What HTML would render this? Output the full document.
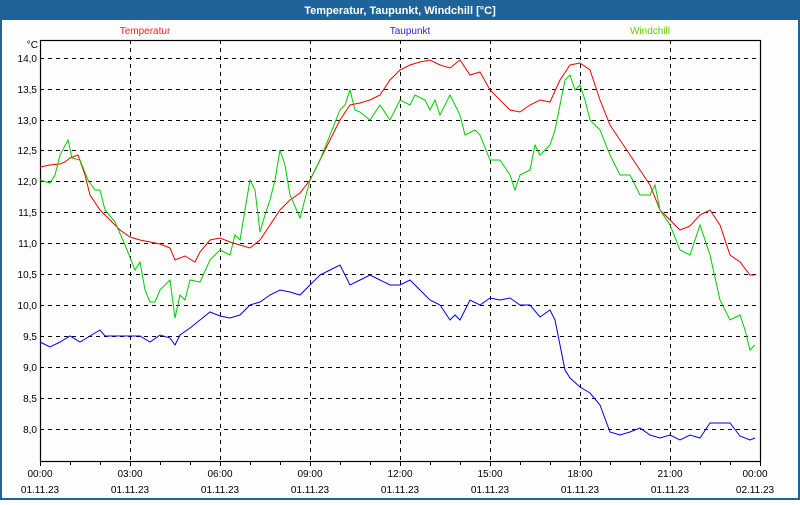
<!DOCTYPE html>
<html><head><meta charset="utf-8"><style>
html,body{margin:0;padding:0;}
body{width:800px;height:500px;overflow:hidden;background:#fff;font-family:"Liberation Sans",sans-serif;}
</style></head><body>
<svg width="800" height="500" xmlns="http://www.w3.org/2000/svg" font-family="Liberation Sans, sans-serif">
<rect x="0" y="0" width="800" height="500" fill="#1e6399"/>
<rect x="2" y="20" width="796" height="478" fill="#fdfefd"/>
<text x="400" y="14" fill="#fff" font-size="11" font-weight="bold" text-anchor="middle">Temperatur, Taupunkt, Windchill [°C]</text>
<text x="145" y="34" fill="#ee2222" font-size="10" text-anchor="middle">Temperatur</text>
<text x="410" y="34" fill="#3322cc" font-size="10" text-anchor="middle">Taupunkt</text>
<text x="650" y="34" fill="#66cc00" font-size="10" text-anchor="middle">Windchill</text>
<g stroke="#000" stroke-width="1" stroke-dasharray="4,4">
<line x1="40" y1="58.5" x2="760" y2="58.5"/><line x1="40" y1="89.5" x2="760" y2="89.5"/><line x1="40" y1="120.5" x2="760" y2="120.5"/><line x1="40" y1="150.5" x2="760" y2="150.5"/><line x1="40" y1="181.5" x2="760" y2="181.5"/><line x1="40" y1="212.5" x2="760" y2="212.5"/><line x1="40" y1="243.5" x2="760" y2="243.5"/><line x1="40" y1="274.5" x2="760" y2="274.5"/><line x1="40" y1="305.5" x2="760" y2="305.5"/><line x1="40" y1="336.5" x2="760" y2="336.5"/><line x1="40" y1="367.5" x2="760" y2="367.5"/><line x1="40" y1="398.5" x2="760" y2="398.5"/><line x1="40" y1="429.5" x2="760" y2="429.5"/>
<line x1="130.5" y1="40" x2="130.5" y2="461"/><line x1="220.5" y1="40" x2="220.5" y2="461"/><line x1="310.5" y1="40" x2="310.5" y2="461"/><line x1="400.5" y1="40" x2="400.5" y2="461"/><line x1="490.5" y1="40" x2="490.5" y2="461"/><line x1="580.5" y1="40" x2="580.5" y2="461"/><line x1="670.5" y1="40" x2="670.5" y2="461"/>
</g>
<rect x="40.5" y="40.5" width="720" height="421" fill="none" stroke="#000" stroke-width="1.2"/>
<g stroke="#000"><path d="M40.5 461v5M70.5 461v4M100.5 461v4M130.5 461v5M160.5 461v4M190.5 461v4M220.5 461v5M250.5 461v4M280.5 461v4M310.5 461v5M340.5 461v4M370.5 461v4M400.5 461v5M430.5 461v4M460.5 461v4M490.5 461v5M520.5 461v4M550.5 461v4M580.5 461v5M610.5 461v4M640.5 461v4M670.5 461v5M700.5 461v4M730.5 461v4M760.5 461v5"/></g>
<g font-size="10" fill="#000" text-anchor="end">
<text x="38" y="48">°C</text>
<text x="37" y="62">14,0</text><text x="37" y="93">13,5</text><text x="37" y="124">13,0</text><text x="37" y="154">12,5</text><text x="37" y="185">12,0</text><text x="37" y="216">11,5</text><text x="37" y="247">11,0</text><text x="37" y="278">10,5</text><text x="37" y="309">10,0</text><text x="37" y="340">9,5</text><text x="37" y="371">9,0</text><text x="37" y="402">8,5</text><text x="37" y="433">8,0</text>
</g>
<g font-size="10" fill="#000" text-anchor="middle">
<text x="40" y="477">00:00</text><text x="130" y="477">03:00</text><text x="220" y="477">06:00</text><text x="310" y="477">09:00</text><text x="400" y="477">12:00</text><text x="490" y="477">15:00</text><text x="580" y="477">18:00</text><text x="670" y="477">21:00</text><text x="755" y="477">00:00</text>
<text x="40" y="493">01.11.23</text><text x="130" y="493">01.11.23</text><text x="220" y="493">01.11.23</text><text x="310" y="493">01.11.23</text><text x="400" y="493">01.11.23</text><text x="490" y="493">01.11.23</text><text x="580" y="493">01.11.23</text><text x="670" y="493">01.11.23</text><text x="755" y="493">02.11.23</text>
</g>
<g fill="none" stroke-width="1">
<polyline stroke="#ee0000" points="40,167 50,165 60,164 65,162 70,158 78,155 85,175 90,195 100,210 110,220 120,230 130,237 140,240 150,242 160,244 170,248 175,260 185,256 195,262 200,252 210,240 220,238 230,242 240,245 250,248 260,240 270,225 280,210 290,200 300,193 310,180 320,160 330,140 340,120 350,105 360,103 370,100 380,95 390,80 400,70 410,65 420,62 430,60 440,65 450,68 460,60 470,75 480,72 490,90 500,100 510,110 520,112 530,105 540,100 550,102 560,80 570,65 580,63 590,70 600,100 610,125 620,140 630,155 640,170 650,185 660,210 670,220 680,230 690,226 700,215 710,210 720,225 730,255 740,262 750,275 755,275"/>
<polyline stroke="#00cc00" points="40,180 50,183 55,175 60,155 68,140 72,158 80,160 88,180 95,190 100,190 105,210 115,222 125,245 135,270 140,262 145,290 150,302 155,302 160,290 165,285 170,280 175,318 180,295 185,300 190,280 200,282 210,260 220,250 230,255 235,235 240,240 245,210 250,180 255,190 260,232 265,215 270,200 275,180 280,150 285,165 290,195 300,218 310,180 320,160 330,135 340,110 345,105 350,90 355,110 360,112 370,120 380,105 390,120 400,100 410,105 415,95 425,100 430,110 435,100 440,115 450,95 460,115 465,135 475,130 480,135 490,160 500,160 510,175 515,190 520,175 530,170 535,145 540,155 550,145 555,130 565,80 570,75 575,90 580,85 585,100 590,120 600,130 610,155 620,175 630,175 640,195 650,195 655,185 660,210 670,225 680,250 690,255 700,225 710,255 720,300 730,320 740,315 745,330 750,350 755,345"/>
<polyline stroke="#0000ee" points="40,342 50,347 60,342 70,336 80,342 90,336 100,330 105,336 140,336 150,342 160,335 170,338 175,345 180,335 190,328 200,320 210,312 220,316 230,318 240,315 250,305 260,302 270,295 280,290 290,292 300,295 310,285 320,275 330,270 340,265 350,285 360,280 370,275 380,280 390,285 400,285 410,280 420,290 430,300 440,305 450,320 455,315 460,320 470,300 480,305 490,298 500,300 510,298 520,305 530,305 540,317 550,310 555,320 565,370 570,378 580,387 590,393 600,405 610,432 620,435 630,432 640,428 650,435 660,438 670,435 680,440 690,435 700,438 710,423 720,423 730,423 740,436 750,440 755,438"/>
</g>
</svg>
</body></html>
